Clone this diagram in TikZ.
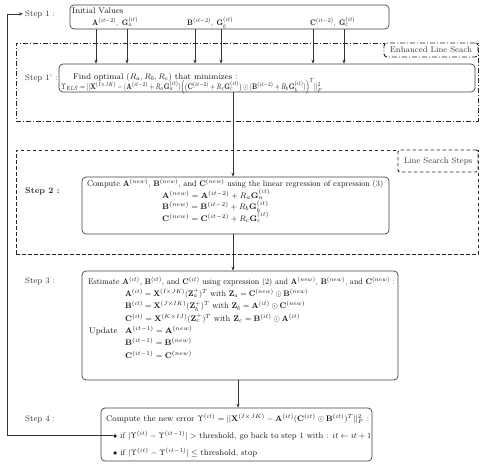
\documentclass[tikz,border=0pt]{standalone}
\usepackage{amsmath}
\usepackage{graphicx}
\usetikzlibrary{arrows.meta}
\newcommand{\myfs}{\fontsize{8.3}{10}\selectfont}
\newcommand{\fitw}[2]{\resizebox{#1}{\height}{#2}}
\newcommand{\bA}{\mathbf{A}}
\newcommand{\bB}{\mathbf{B}}
\newcommand{\bC}{\mathbf{C}}
\newcommand{\bG}{\mathbf{G}}
\newcommand{\bX}{\mathbf{X}}
\newcommand{\bZ}{\mathbf{Z}}
\begin{document}
\begin{tikzpicture}[x=1pt,y=-1pt,
  box/.style={draw=black!75, line width=0.7pt, rounded corners=4pt, inner sep=0pt},
  txt/.style={inner sep=0pt, anchor=base west, font=\myfs, text=black!90},
  lbl/.style={inner sep=0pt, anchor=base west, font=\myfs, text=black!80},
  arr/.style={draw=black!80, line width=0.6pt, -{Stealth[length=4pt,width=3.2pt]}},
  elsbox/.style={draw=black!85, line width=0.9pt, dash pattern=on 5pt off 2pt on 1pt off 2pt, inner sep=0pt},
  elslbl/.style={draw=black!85, line width=0.9pt, dash pattern=on 5pt off 2pt on 1pt off 2pt, rounded corners=3pt, fill=white, inner sep=0pt, font=\myfs, text=black!75},
  lsbox/.style={draw=black!85, line width=0.9pt, dash pattern=on 3.5pt off 2.5pt, inner sep=0pt},
  lslbl/.style={draw=black!85, line width=0.9pt, dash pattern=on 3.5pt off 2.5pt, rounded corners=2pt, fill=white, inner sep=0pt, font=\myfs, text=black!75}
]
\useasboundingbox (0,0) rectangle (483,466);

% ---- outer grouping frames
\node[elsbox, minimum width=462pt, minimum height=78pt] (els) at (247,82) {};
\node[elslbl, anchor=north east, minimum width=94pt, minimum height=14pt] (elsl) at (els.north east) {Enhanced Line Seach};
\node[lsbox, minimum width=462pt, minimum height=104pt] (ls) at (247,202) {};
\node[lslbl, anchor=north east, minimum width=80pt, minimum height=22pt] (lsl) at (ls.north east) {Line Search Steps};

% ---- boxes
\node[box, fill=white, minimum width=319pt, minimum height=24pt] (init) at (229.5,17) {};
\node[box, fill=white, minimum width=416pt, minimum height=28pt] (s1p) at (267,78) {};
\node[box, fill=white, minimum width=307pt, minimum height=57pt] (s2) at (235.5,205.5) {};
\node[box, fill=white, minimum width=316pt, minimum height=109pt] (s3) at (240,325.5) {};
\node[box, fill=white, minimum width=271pt, minimum height=53pt] (s4) at (236.5,434.5) {};

% ---- step labels
\node[lbl] (st1) at (25,16) {Step 1 :};
\node[lbl] (st1p) at (25,80) {Step 1' :};
\node[lbl] (st2) at (25,193.5) {\bfseries Step 2 :};
\node[lbl] (st3) at (25,283) {Step 3 :};
\node[lbl] (st4) at (25,421) {Step 4 :};

% ---- initial values
\node[txt] (ivt) at (72,13.5) {Initial Values};
\node[txt] (iva) at (92,25.5) {\fitw{46pt}{$\bA^{(it-2)},\ \bG_a^{(it)}$}};
\node[txt] (ivb) at (187,25.5) {\fitw{46pt}{$\bB^{(it-2)},\ \bG_b^{(it)}$}};
\node[txt] (ivc) at (310,25.5) {\fitw{45pt}{$\bC^{(it-2)},\ \bG_c^{(it)}$}};

% ---- step 1'
\node[txt] (s1t1) at (73,79.5) {Find optimal $(R_a,R_b,R_c)$ that minimizes :};
\node[txt] (s1t2) at (61,89.5) {\fitw{261pt}{$\Upsilon_{ELS} = ||\bX^{(I\times JK)} - (\bA^{(it-2)} + R_a\bG_a^{(it)})\Big(\big(\bC^{(it-2)} + R_c\bG_c^{(it)}\big)\odot(\bB^{(it-2)} + R_b\bG_b^{(it)})\Big)^T||_F^2$}};

% ---- step 2
\node[txt] (s2t1) at (87,186.5) {\fitw{296pt}{Compute $\bA^{(new)}$, $\bB^{(new)}$, and $\bC^{(new)}$ using the linear regression of expression (3)}};
\node[txt] (s2e1) at (162,198) {$\bA^{(new)} = \bA^{(it-2)} + R_a\bG_a^{(it)}$};
\node[txt] (s2e2) at (162,209.5) {$\bB^{(new)} = \bB^{(it-2)} + R_b\bG_b^{(it)}$};
\node[txt] (s2e3) at (162,221) {$\bC^{(new)} = \bC^{(it-2)} + R_c\bG_c^{(it)}$};

% ---- step 3
\node[txt] (s3t1) at (88,284) {\fitw{307pt}{Estimate $\bA^{(it)}$, $\bB^{(it)}$, and $\bC^{(it)}$ using expression (2) and $\bA^{(new)}$, $\bB^{(new)}$, and $\bC^{(new)}$ :}};
\node[txt] (s3e1) at (125,296.5) {\fitw{183pt}{$\bA^{(it)} = \bX^{(I\times JK)}(\bZ_a^{+})^T$ with $\bZ_a = \bC^{(new)}\odot\bB^{(new)}$}};
\node[txt] (s3e2) at (125,308.7) {\fitw{180pt}{$\bB^{(it)} = \bX^{(J\times IK)}(\bZ_b^{+})^T$ with $\bZ_b = \bA^{(it)}\odot\bC^{(new)}$}};
\node[txt] (s3e3) at (125,321) {\fitw{175pt}{$\bC^{(it)} = \bX^{(K\times IJ)}(\bZ_c^{+})^T$ with $\bZ_c = \bB^{(it)}\odot\bA^{(it)}$}};
\node[txt] (s3u) at (89,333.5) {Update};
\node[txt] (s3u1) at (125,333.5) {$\bA^{(it-1)} = \bA^{(new)}$};
\node[txt] (s3u2) at (125,345.8) {$\bB^{(it-1)} = \bB^{(new)}$};
\node[txt] (s3u3) at (125,358) {$\bC^{(it-1)} = \bC^{(new)}$};

% ---- step 4
\node[txt] (s4t1) at (106,421) {\fitw{263pt}{Compute the new error $\Upsilon^{(it)} = ||\bX^{(I\times JK)} - \bA^{(it)}(\bC^{(it)}\odot\bB^{(it)})^T||_F^2$ :}};
\node[txt] (s4b1) at (113,438) {\fitw{258pt}{$\bullet$\ if $|\Upsilon^{(it)} - \Upsilon^{(it-1)}| >$ threshold, go back to step 1 with : $it \leftarrow it+1$}};
\node[txt] (s4b2) at (113,455) {\fitw{144pt}{$\bullet$\ if $|\Upsilon^{(it)} - \Upsilon^{(it-1)}| \leq$ threshold, stop}};

% ---- connector x positions
\coordinate (xa1) at (96,0);
\coordinate (xa2) at (127,0);
\coordinate (xb1) at (195,0);
\coordinate (xb2) at (221,0);
\coordinate (xc1) at (313,0);
\coordinate (xc2) at (344,0);
\coordinate (xm) at (233,0);
\coordinate (xn) at (238,0);
\coordinate (xl) at (7,0);

\foreach \c in {xa1,xa2,xb1,xb2,xc1,xc2}
  \draw[arr] (init.south -| \c) -- (s1p.north -| \c);
\draw[arr] (s1p.south -| xm) -- (s2.north -| xm);
\draw[arr] (s2.south -| xm) -- (s3.north -| xm);
\draw[arr] (s3.south -| xn) -- (s4.north -| xn);
\draw[arr, shorten >=2pt] (s4b1.west) -- (s4b1.west -| xl) -- (xl |- st1.west) -- (st1.west);
\end{tikzpicture}
\end{document}
